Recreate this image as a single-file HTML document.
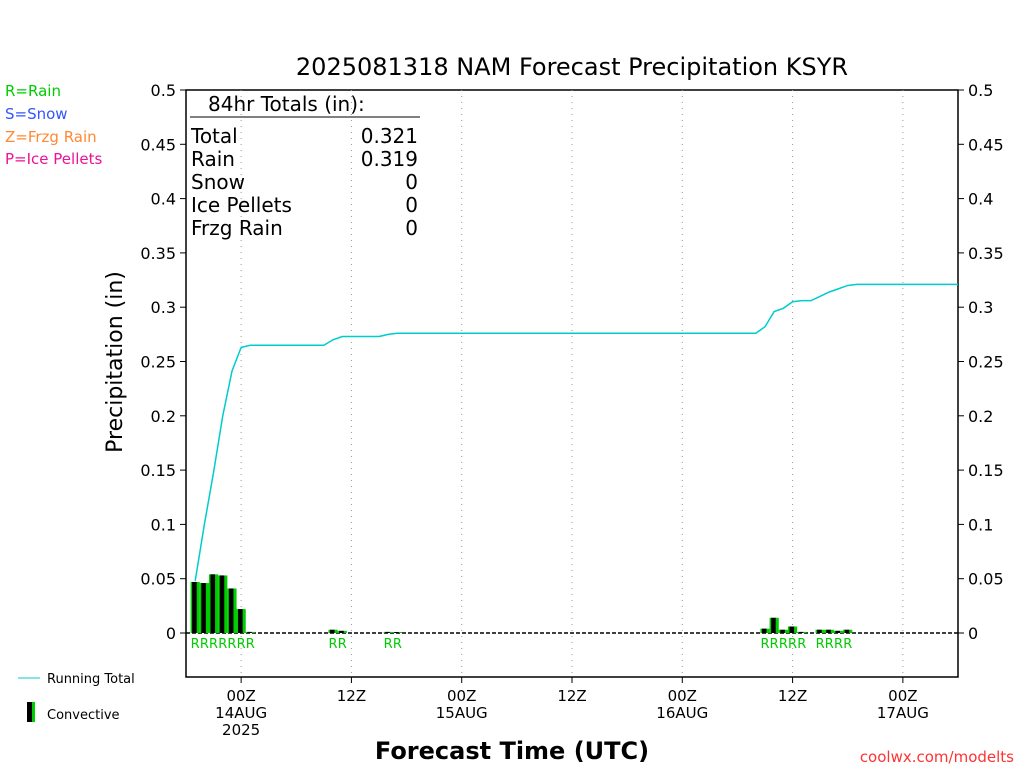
<!DOCTYPE html>
<html><head><meta charset="utf-8"><style>
body{margin:0;background:#fff;}
svg text{font-family:"DejaVu Sans","Liberation Sans",sans-serif;}
</style></head><body>
<svg id="c" width="1024" height="768" xmlns="http://www.w3.org/2000/svg">
<text x="572" y="75" font-size="24" text-anchor="middle">2025081318 NAM Forecast Precipitation KSYR</text>
<g font-size="15">
<text x="5" y="96" fill="#00cc00">R=Rain</text>
<text x="5" y="119" fill="#3355ff">S=Snow</text>
<text x="5" y="142" fill="#ff8833">Z=Frzg Rain</text>
<text x="5" y="164" fill="#ee1199">P=Ice Pellets</text>
</g>
<rect x="186" y="90" width="772" height="587" fill="none" stroke="#000" stroke-width="1.5"/>
<g id="grid"></g><g id="axes"></g><g id="bars"></g><g id="line"></g>
<g font-size="20">
<text x="208" y="111">84hr Totals (in):</text>
<line x1="190" y1="117" x2="420" y2="117" stroke="#000"/>
<text x="191" y="143">Total</text><text x="418" y="143" text-anchor="end">0.321</text>
<text x="191" y="166">Rain</text><text x="418" y="166" text-anchor="end">0.319</text>
<text x="191" y="189">Snow</text><text x="418" y="189" text-anchor="end">0</text>
<text x="191" y="212">Ice Pellets</text><text x="418" y="212" text-anchor="end">0</text>
<text x="191" y="235">Frzg Rain</text><text x="418" y="235" text-anchor="end">0</text>
</g>
<text transform="translate(122,362) rotate(-90)" font-size="22" text-anchor="middle">Precipitation (in)</text>
<text x="512" y="759" font-size="24" font-weight="bold" text-anchor="middle">Forecast Time (UTC)</text>
<text x="1014" y="762" font-size="15" fill="#ff3333" text-anchor="end">coolwx.com/modelts</text>
<line x1="18" y1="678" x2="40" y2="678" stroke="#00cccc"/>
<text x="47" y="683" font-size="13">Running Total</text>
<rect x="27" y="702" width="5" height="20" fill="#000"/>
<rect x="32" y="702" width="3" height="20" fill="#00cc00"/>
<text x="47" y="719" font-size="13">Convective</text>
</svg>
<script>
const yTicks=[0,0.05,0.1,0.15,0.2,0.25,0.3,0.35,0.4,0.45,0.5];
const xTickHours=[6,18,30,42,54,66,78];
const xTickLabels=[["00Z","14AUG","2025"],["12Z"],["00Z","15AUG"],["12Z"],["00Z","16AUG"],["12Z"],["00Z","17AUG"]];
const barHours=[1,2,3,4,5,6,7,16,17,22,23,63,64,65,66,67,69,70,71,72];
const barValues=[0.047,0.046,0.054,0.053,0.041,0.022,0.001,0.003,0.002,0.001,0.0005,0.004,0.014,0.003,0.006,0.001,0.003,0.003,0.002,0.003];
const totalHours=[1,2,3,4,5,6,7,15,16,17,21,22,23,62,63,64,65,66,67,68,69,70,71,72,73,84];
const totalValues=[0.048,0.1,0.148,0.2,0.241,0.263,0.265,0.265,0.27,0.273,0.273,0.275,0.276,0.276,0.282,0.296,0.299,0.305,0.306,0.306,0.31,0.314,0.317,0.32,0.321,0.321];
const NS="http://www.w3.org/2000/svg";
const x=h=>186+h*772/84, y=v=>633-v*1086;
function mk(p,t,a){const e=document.createElementNS(NS,t);for(const k in a)e.setAttribute(k,a[k]);document.getElementById(p).appendChild(e);return e;}
yTicks.forEach(v=>{
 let t=mk('axes','text',{x:176,y:y(v)+6,'font-size':16,'text-anchor':'end'});t.textContent=String(v);
 
 
 let t2=mk('axes','text',{x:968,y:y(v)+6,'font-size':16});t2.textContent=String(v);
 
 
 mk('axes','line',{x1:180,x2:186,y1:y(v),y2:y(v),stroke:'#000'});
 mk('axes','line',{x1:958,x2:964,y1:y(v),y2:y(v),stroke:'#000'});
});
xTickHours.forEach((h,i)=>{
 const g=mk('grid','line',{x1:x(h),x2:x(h),y1:90,y2:677,stroke:'#999','stroke-dasharray':'1,5'});
 
 
 mk('axes','line',{x1:x(h),x2:x(h),y1:677,y2:683,stroke:'#000'});
 xTickLabels[i].forEach((s,j)=>{const t=mk('axes','text',{x:x(h),y:701+j*17,'font-size':15,'text-anchor':'middle'});t.textContent=s;
 
 });
});
mk('axes','line',{x1:186,x2:958,y1:633,y2:633,stroke:'#000','stroke-dasharray':'4,2','stroke-width':1.5});
barHours.forEach((h,i)=>{
 const x0=x(h-0.5),w=x(h+0.5)-x0,v=barValues[i],top=y(v),hh=Math.max(633-top,1);
 const g=mk('bars','rect',{x:x0,y:633-hh,width:w,height:hh,fill:'#00cc00'});
 
 
 mk('bars','rect',{x:x0+1.5,y:633-hh,width:w*0.5,height:hh,fill:'#000'});
 const t=mk('bars','text',{x:x(h),y:648,'font-size':13,fill:'#00cc00','text-anchor':'middle'});t.textContent='R';
 
 
});
const pts=totalHours.map((h,i)=>x(h)+','+y(totalValues[i])).join(' ');
const pl=mk('line','polyline',{points:pts,fill:'none',stroke:'#00cccc','stroke-width':1.5});


</script>
</body></html>
